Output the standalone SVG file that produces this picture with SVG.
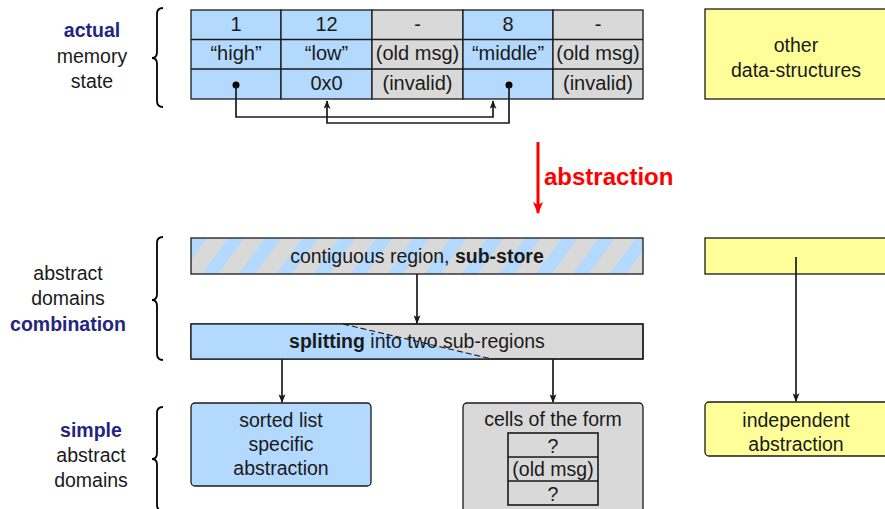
<svg xmlns="http://www.w3.org/2000/svg" width="885" height="509" viewBox="0 0 885 509">
<style>
text{font-family:"Liberation Sans",Arial,sans-serif;font-size:19.5px;fill:#1a1a1a;text-anchor:middle}
.c{font-size:20px}
.b{font-weight:bold}
.lab{fill:#25257f;font-weight:bold}
.blue{fill:#b3d9ff;stroke:#1a1a1a;stroke-width:1.3}
.gray{fill:#d9d9d9;stroke:#1a1a1a;stroke-width:1.3}
.yel{fill:#ffff99;stroke:#1a1a1a;stroke-width:1.3}
.ln{fill:none;stroke:#1a1a1a;stroke-width:1.7}
.brace{fill:none;stroke:#000;stroke-width:1.8}
</style>
<defs>
<marker id="ah" viewBox="0 0 10 8" refX="9" refY="4" markerWidth="9" markerHeight="7" markerUnits="userSpaceOnUse" orient="auto">
<path d="M0,0 L10,4 L0,8 L2.5,4 z" fill="#1a1a1a"/>
</marker>
<marker id="rah" viewBox="0 0 12 10" refX="11" refY="5" markerWidth="14" markerHeight="10" markerUnits="userSpaceOnUse" orient="auto">
<path d="M0,0 L12,5 L0,10 L3,5 z" fill="#ff0000"/>
</marker>
<pattern id="stripes" width="30" height="30" patternUnits="userSpaceOnUse" patternTransform="translate(191,238) rotate(36)">
<rect width="30" height="30" fill="#d9d9d9"/>
<rect width="13" height="30" fill="#b3d9ff"/>
</pattern>
</defs>

<!-- left labels and braces -->
<g id="label-actual">
<text x="92" y="37" class="lab">actual</text>
<text x="92" y="63">memory</text>
<text x="92" y="88">state</text>
<path class="brace" d="M163,8 Q157,8 157,14 L157,52 Q157,58 152,58 Q157,58 157,64 L157,101 Q157,107 163,107"/>
</g>
<g id="label-combination">
<text x="68" y="280">abstract</text>
<text x="68" y="305">domains</text>
<text x="68" y="331" class="lab">combination</text>
<path class="brace" d="M163,237 Q157,237 157,243 L157,294 Q157,300 152,300 Q157,300 157,306 L157,354 Q157,360 163,360"/>
</g>
<g id="label-simple">
<text x="91" y="437" class="lab">simple</text>
<text x="91" y="462">abstract</text>
<text x="91" y="487">domains</text>
<path class="brace" d="M163,407 Q157,407 157,413 L157,453 Q157,459 152,459 Q157,459 157,465 L157,505 Q157,511 163,511"/>
</g>

<!-- memory table -->
<g id="memory-table">
<rect class="blue" x="191" y="10" width="90" height="89"/>
<rect class="blue" x="281" y="10" width="91" height="89"/>
<rect class="gray" x="372" y="10" width="91" height="89"/>
<rect class="blue" x="463" y="10" width="90" height="89"/>
<rect class="gray" x="553" y="10" width="90" height="89"/>
<path d="M191,39.5 H643 M191,69 H643" stroke="#1a1a1a" stroke-width="1.3"/>
<text class="c" x="236" y="31">1</text>
<text class="c" x="326.5" y="31">12</text>
<text class="c" x="417.5" y="31">-</text>
<text class="c" x="508" y="31">8</text>
<text class="c" x="598" y="31">-</text>
<text class="c" x="236" y="60">“high”</text>
<text class="c" x="326.5" y="60">“low”</text>
<text class="c" x="417.5" y="60">(old msg)</text>
<text class="c" x="508" y="60">“middle”</text>
<text class="c" x="598" y="60">(old msg)</text>
<text class="c" x="326.5" y="90">0x0</text>
<text class="c" x="417.5" y="90">(invalid)</text>
<text class="c" x="598" y="90">(invalid)</text>
<circle cx="236" cy="85" r="3.5" fill="#000"/>
<circle cx="509" cy="85" r="3.5" fill="#000"/>
</g>

<g id="other-ds">
<rect class="yel" x="705" y="9" width="185" height="90"/>
<text x="796" y="52">other</text>
<text x="796" y="77">data-structures</text>
</g>

<g id="abstraction-arrow">
<line x1="538" y1="142" x2="538" y2="213" stroke="#ff0000" stroke-width="3" marker-end="url(#rah)"/>
<text x="544" y="185" class="b" style="font-size:24px;fill:#ff0000;text-anchor:start">abstraction</text>
</g>

<g id="contiguous">
<rect x="191" y="238" width="452" height="36" fill="url(#stripes)" stroke="#1a1a1a" stroke-width="1.3"/>
<text x="417" y="263">contiguous region, <tspan class="b">sub-store</tspan></text>
</g>

<g id="yellow-combo">
<rect class="yel" x="705" y="238" width="185" height="36"/>
</g>

<g id="splitting">
<rect class="gray" x="191" y="324" width="452" height="35"/>
<path d="M191,324 H343 L492,359 H191 z" fill="#b3d9ff"/>
<rect x="191" y="324" width="452" height="35" fill="none" stroke="#1a1a1a" stroke-width="1.3"/>
<line x1="343" y1="324" x2="492" y2="359" stroke="#1a1a1a" stroke-width="1.1" stroke-dasharray="6,3"/>
<text x="417" y="348"><tspan class="b">splitting</tspan> into two sub-regions</text>
</g>

<g id="sorted-list">
<rect class="blue" x="191" y="403" width="180" height="83" rx="4"/>
<text x="281" y="427">sorted list</text>
<text x="281" y="451">specific</text>
<text x="281" y="475">abstraction</text>
</g>

<g id="cells">
<rect class="gray" x="463" y="403" width="180" height="120" rx="4"/>
<text x="553" y="426">cells of the form</text>
<rect x="508" y="433" width="90" height="72" fill="none" stroke="#1a1a1a" stroke-width="1.6"/>
<path d="M508,457 H598 M508,481 H598" stroke="#1a1a1a" stroke-width="1.6"/>
<text x="553" y="453">?</text>
<text x="553" y="476">(old msg)</text>
<text x="553" y="501">?</text>
</g>

<g id="independent">
<rect class="yel" x="705" y="402" width="185" height="54" rx="4"/>
<text x="796" y="427">independent</text>
<text x="796" y="451">abstraction</text>
</g>

<g id="connectors">
<path class="ln" d="M236,85 V117 H493 V101" marker-end="url(#ah)"/>
<path class="ln" d="M509,85 V123 H327 V101" marker-end="url(#ah)"/>
<line class="ln" x1="417" y1="274" x2="417" y2="323" marker-end="url(#ah)"/>
<line class="ln" x1="282" y1="359" x2="282" y2="402" marker-end="url(#ah)"/>
<line class="ln" x1="553" y1="359" x2="553" y2="402" marker-end="url(#ah)"/>
<line class="ln" x1="796" y1="257" x2="796" y2="401" marker-end="url(#ah)"/>
</g>
</svg>
